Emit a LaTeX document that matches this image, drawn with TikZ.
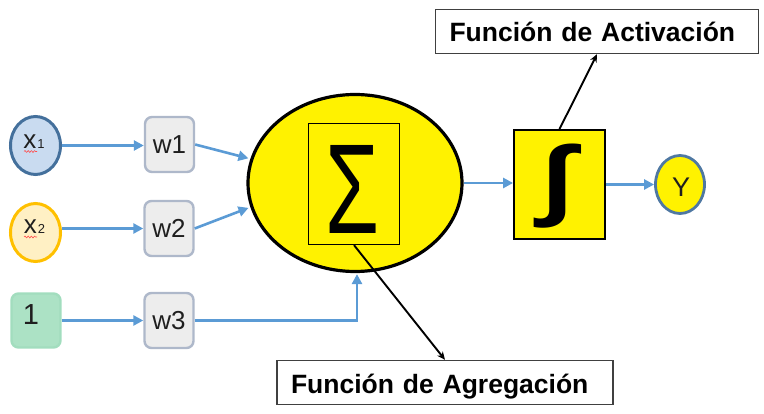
\documentclass[tikz,border=0pt]{standalone}
\usepackage{fontspec}
\setmainfont{Liberation Sans}
\newfontfamily\symfnt{Liberation Sans}
\usetikzlibrary{arrows.meta,shapes.geometric,decorations.pathmorphing}
\definecolor{arrblue}{HTML}{5B9BD5}
\definecolor{xonefill}{HTML}{C9DBF0}
\definecolor{xoneborder}{HTML}{44709C}
\definecolor{xtwofill}{HTML}{FFF0C4}
\definecolor{xtwoborder}{HTML}{FFC000}
\definecolor{onefill}{HTML}{ACE2C5}
\definecolor{oneborder}{HTML}{A2DDBE}
\definecolor{wfill}{HTML}{EDEDED}
\definecolor{wborder}{HTML}{AEB8CA}
\definecolor{yborder}{HTML}{4F78A2}
\definecolor{txt}{HTML}{1F1F1F}
\definecolor{lblborder}{HTML}{404040}
\begin{document}
\begin{tikzpicture}[x=1pt,y=-1pt,
  inp/.style={ellipse, line width=3pt, minimum width=50pt, minimum height=58pt, inner sep=0pt},
  wbox/.style={draw=wborder, fill=wfill, rounded corners=7pt, line width=2.4pt, minimum width=49pt, minimum height=55pt, inner sep=0pt, font=\fontsize{26}{26}\selectfont, text=txt},
  lbltext/.style={anchor=base, inner sep=0pt, text=txt},
  flow/.style={draw=arrblue, line width=2.6pt, -{Triangle[length=10pt,width=10pt]}},
  pointer/.style={draw=black, line width=1.9pt, -{Stealth[length=8pt,width=7pt,inset=2.5pt]}},
  lblbox/.style={draw=lblborder, line width=1.4pt, fill=white, align=left, inner xsep=14pt, inner ysep=0pt, minimum height=44pt, text height=21pt, text depth=0pt, font=\fontsize{26.5}{26.5}\selectfont\bfseries, text=black},
  squig/.style={draw=red!70, line width=0.6pt, decorate, decoration={snake, amplitude=0.9pt, segment length=3.2pt}},
]
\useasboundingbox (0,0) rectangle (764,414);

% inputs
\node[inp, draw=xoneborder, fill=xonefill] (x1) at (35.5,145.5) {};
\node[lbltext, font=\fontsize{26}{26}\selectfont] (x1t) at (34,148.5) {x\kern1pt{\fontsize{13}{13}\selectfont 1}};
\draw[squig] (24,151.5) -- (37,151.5);

\node[inp, draw=xtwoborder, fill=xtwofill] (x2) at (35.5,232.5) {};
\node[lbltext, font=\fontsize{26}{26}\selectfont] (x2t) at (34.5,233.5) {x\kern1pt{\fontsize{13}{13}\selectfont 2}};
\draw[squig] (24,237) -- (37,237);

\node[draw=oneborder, fill=onefill, rounded corners=7pt, line width=2.4pt, minimum width=49pt, minimum height=54pt, inner sep=0pt] (one) at (36,320.5) {};
\node[lbltext, font=\fontsize{29}{29}\selectfont] (onet) at (31,325) {1};

% weights
\node[wbox] (w1) at (169.5,144.5) {w1};
\node[wbox] (w2) at (169,228.5) {w2};
\node[wbox] (w3) at (169,320.5) {w3};

% summation
\node[ellipse, draw=black, fill=yellow, line width=3.2pt, minimum width=214pt, minimum height=177pt, inner sep=0pt] (sum) at (355,183) {};
\node[draw=black, line width=1.2pt, minimum width=91pt, minimum height=121pt, inner sep=0pt] (sig) at (354,184) {};
\node[inner sep=0pt] (sigt) at (352.5,189) {\resizebox{54pt}{88pt}{\symfnt Σ}};

% activation
\node[draw=black, fill=yellow, line width=1.8pt, minimum width=91pt, minimum height=109pt, inner sep=0pt] (int) at (559.5,184.5) {};
\node[inner sep=0pt] (intt) at (557.5,186) {\resizebox{32pt}{64.5pt}{\symfnt\bfseries ∫}};

% output
\node[ellipse, draw=yborder, fill=yellow, line width=2.8pt, minimum width=49pt, minimum height=58pt, inner sep=0pt] (Y) at (680,184.5) {};
\node[lbltext, font=\fontsize{27}{27}\selectfont] (Yt) at (681,197) {Y};

% labels
\node[lblbox, text width=295pt] (act) at (597,31.5) {Función de Activación};
\node[lblbox, text width=308pt] (agr) at (445,382.5) {Función de Agregación};

% connectors
\draw[flow] (x1.east) -- (w1.west |- x1.east);
\draw[flow] (x2.east |- w2.west) -- (w2.west);
\draw[flow] (one.east) -- (w3.west);
\draw[flow, shorten >=2pt] (w1.east) -- (sum.167);
\draw[flow, shorten >=2pt] (w2.east) -- (sum.193);
\draw[flow, shorten >=1pt] (w3.east) -| ([xshift=2pt]sum.south);
\draw[flow] (sum.east) -- (int.west |- sum.east);
\draw[flow] (int.east) -- (Y.west |- int.east);
\draw[pointer] (sig.south) -- (agr.north);
\draw[pointer] (int.north) -- (act.south);
\end{tikzpicture}
\end{document}
